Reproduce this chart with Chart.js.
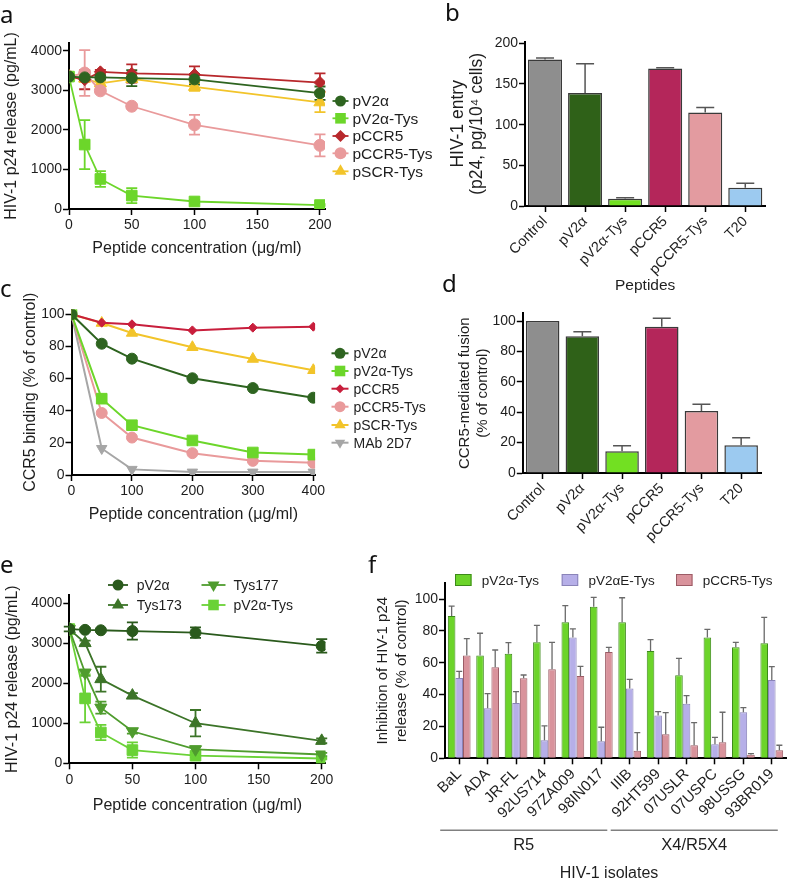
<!DOCTYPE html>
<html>
<head>
<meta charset="utf-8">
<script src="https://cdn.jsdelivr.net/npm/chart.js@4.4.1/dist/chart.umd.min.js"></script>
<style>
html, body { margin: 0; padding: 0; background: #fff; overflow: hidden; }
#fig { position: relative; width: 788px; height: 880px; }
#fig canvas { position: absolute; }
.tag { position: absolute; font-family: 'Noto Sans', sans-serif; font-size: 24px; line-height: 24px; color: #111; }
</style>
</head>
<body>
<div id="fig">
  <canvas id="chartA" width="445" height="290" style="left:0;top:0"></canvas>
  <canvas id="chartB" width="348" height="295" style="left:440px;top:0"></canvas>
  <canvas id="chartC" width="440" height="240" style="left:0;top:290px"></canvas>
  <canvas id="chartD" width="348" height="270" style="left:440px;top:295px"></canvas>
  <canvas id="chartE" width="370" height="250" style="left:0;top:570px"></canvas>
  <canvas id="chartF" width="418" height="320" style="left:370px;top:560px"></canvas>
  <div class="tag" style="left:0;top:2px">a</div>
  <div class="tag" style="left:445px;top:0">b</div>
  <div class="tag" style="left:0;top:276px">c</div>
  <div class="tag" style="left:442px;top:271px">d</div>
  <div class="tag" style="left:0;top:552px">e</div>
  <div class="tag" style="left:368px;top:552px">f</div>
</div>
<script>
// panel a: p24 release vs peptide concentration
var concA = [0, 12.5, 25, 50, 100, 200];
var aV2 = [3350, 3330, 3330, 3310, 3280, 2930];
var aV2Err = [0, 60, 50, 200, 130, 170];
var aV2Tys = [3350, 1630, 760, 340, 190, 100];
var aV2TysErr = [0, 620, 200, 190, 40, 20];
var aCCR5 = [3350, 3270, 3470, 3430, 3400, 3200];
var aCCR5Err = [0, 240, 50, 230, 210, 230];
var aCCR5Tys = [3350, 3440, 2990, 2600, 2130, 1610];
var aCCR5TysErr = [0, 580, 50, 50, 250, 280];
var aSCRTys = [3350, 3300, 3180, 3290, 3090, 2700];
var aSCRTysErr = [0, 80, 60, 60, 100, 250];

// panel b / d: bars per peptide
var peptides = ['Control', 'pV2α', 'pV2α-Tys', 'pCCR5', 'pCCR5-Tys', 'T20'];
var bEntry = [180, 139, 9, 169, 115, 22.5];
var bEntryErr = [2, 36, 1, 1, 6, 5.5];
var dFusion = [100, 90, 14.3, 96.2, 40.8, 18.2];
var dFusionErr = [0, 3, 3.7, 5.6, 4.4, 5];

// panel c: CCR5 binding
var concC = [0, 50, 100, 200, 300, 400];
var cV2 = [100, 81.7, 72.4, 60.2, 54.1, 48.1];
var cV2Tys = [100, 47.5, 31, 21.5, 14, 12.7];
var cCCR5 = [100, 94.8, 93.8, 90, 91.7, 92.3];
var cCCR5Tys = [100, 38.6, 23.3, 13.6, 8.8, 7.6];
var cSCRTys = [100, 94.6, 88.4, 79.5, 72.2, 65.2];
var cMAb = [100, 16.5, 3.5, 1.8, 1.8, 1.8];

// panel e: sulfated variants
var concE = [0, 12.5, 25, 50, 100, 200];
var eV2 = [3350, 3330, 3320, 3300, 3260, 2930];
var eV2Err = [60, 40, 40, 215, 130, 170];
var eTys173 = [3350, 3000, 2100, 1690, 1000, 560];
var eTys173Err = [0, 60, 310, 60, 330, 60];
var eTys177 = [3350, 2260, 1390, 800, 350, 220];
var eTys177Err = [0, 80, 150, 60, 70, 40];
var eV2Tys = [3350, 1620, 770, 330, 190, 120];
var eV2TysErr = [0, 600, 190, 190, 40, 20];

// panel f: inhibition per isolate
var isolates = ['BaL', 'ADA', 'JR-FL', '92US714', '97ZA009', '98IN017', 'IIIB', '92HT599', '07USLR', '07USPC', '98USSG', '93BR019'];
var fV2Tys = [89.3, 64.6, 65.7, 72.8, 85.4, 95.2, 85.4, 67.4, 52.1, 75.9, 69.7, 72.2];
var fV2TysErr = [6.3, 13.9, 6.9, 10.7, 10.4, 5.8, 15.4, 7.1, 10.7, 5.1, 3.1, 16.3];
var fV2ETys = [50.4, 31.4, 34.7, 11.3, 75.9, 10.7, 43.9, 26.8, 34.3, 8.8, 28.9, 49.2];
var fV2ETysErr = [4.2, 9.2, 7.1, 9, 5.3, 8.8, 5.7, 2.5, 5, 4.4, 2.9, 8.3];
var fCCR5Tys = [64.6, 57.1, 50.2, 55.9, 51.7, 66.7, 4.8, 15.1, 8.2, 10, 2.3, 5];
var fCCR5TysErr = [10.5, 10.9, 2.1, 16.9, 6, 3, 11.3, 13.6, 14.2, 18.9, 0.6, 3.2];
var groupNames = ['R5', 'X4/R5X4'];
var groupFirst = [0, 6];
var groupLast = [5, 11];

// tick labels
var ticksP24 = [0, 1000, 2000, 3000, 4000];
var ticksConc200 = [0, 50, 100, 150, 200];
var ticksConc400 = [0, 100, 200, 300, 400];
var ticksEntry = [0, 50, 100, 150, 200];
var ticksPct = [0, 20, 40, 60, 80, 100];

var FONT = "'Liberation Sans', Arial, sans-serif";
var INK = '#1e1e1e';
Chart.defaults.font.family = FONT;
Chart.defaults.font.size = 14;
Chart.defaults.color = INK;
Chart.defaults.plugins.legend.display = false;
Chart.defaults.plugins.tooltip.enabled = false;

function drawMarker(ctx, style, r, rot, x, y, color) {
    ctx.save();
    ctx.translate(x, y);
    ctx.rotate((rot || 0) * Math.PI / 180);
    ctx.fillStyle = color;
    ctx.beginPath();
    if (style === 'circle') {
        ctx.arc(0, 0, r, 0, Math.PI * 2);
    } else if (style === 'rect') {
        var s = r * Math.SQRT1_2;
        ctx.rect(-s, -s, 2 * s, 2 * s);
    } else if (style === 'rectRot') {
        ctx.moveTo(-r, 0); ctx.lineTo(0, -r); ctx.lineTo(r, 0); ctx.lineTo(0, r);
    } else {
        for (var k = 0; k < 3; k++) {
            var a = k * 2 * Math.PI / 3;
            ctx.lineTo(Math.sin(a) * r, -Math.cos(a) * r);
        }
    }
    ctx.closePath();
    ctx.fill();
    ctx.restore();
}

function drawErrors(chart, opts) {
    var ctx = chart.ctx, yScale = chart.scales.y;
    chart.data.datasets.forEach(function (ds, i) {
        if (!ds.errors) return;
        var meta = chart.getDatasetMeta(i);
        ctx.save();
        ctx.strokeStyle = opts.color || ds.borderColor;
        ctx.lineWidth = opts.width || 1.5;
        meta.data.forEach(function (el, j) {
            var e = ds.errors[j];
            if (!e) return;
            var d = ds.data[j];
            var v = typeof d === 'object' ? d.y : d;
            var top = yScale.getPixelForValue(v + e);
            var bot = yScale.getPixelForValue(opts.upperOnly ? v : v - e);
            ctx.beginPath();
            ctx.moveTo(el.x, top); ctx.lineTo(el.x, bot);
            ctx.moveTo(el.x - opts.cap, top); ctx.lineTo(el.x + opts.cap, top);
            if (!opts.upperOnly) {
                ctx.moveTo(el.x - opts.cap, bot); ctx.lineTo(el.x + opts.cap, bot);
            }
            ctx.stroke();
        });
        ctx.restore();
    });
}

var errorBars = {
    id: 'errorBars',
    beforeDatasetsDraw: function (chart, args, opts) { if (opts.cap && !opts.onTop) drawErrors(chart, opts); },
    afterDatasetsDraw: function (chart, args, opts) { if (opts.cap && opts.onTop) drawErrors(chart, opts); }
};

var keys = {
    id: 'keys',
    afterDraw: function (chart, args, opts) {
        if (!opts.items) return;
        var ctx = chart.ctx;
        ctx.save();
        ctx.font = opts.size + 'px ' + FONT;
        ctx.textBaseline = 'middle';
        opts.items.forEach(function (it) {
            var ds = chart.data.datasets[it.ds];
            if (opts.box) {
                ctx.fillStyle = ds.backgroundColor;
                ctx.fillRect(it.x, it.y - 6, 16.5, 12);
                ctx.strokeStyle = ds.borderColor;
                ctx.lineWidth = 1;
                ctx.strokeRect(it.x + 0.5, it.y - 5.5, 15.5, 11);
            } else {
                var half = it.half || opts.half;
                ctx.strokeStyle = ds.borderColor;
                ctx.lineWidth = ds.borderWidth;
                ctx.beginPath();
                ctx.moveTo(it.x - half, it.y); ctx.lineTo(it.x + half, it.y);
                ctx.stroke();
                drawMarker(ctx, ds.pointStyle, ds.pointRadius, ds.pointRotation, it.x, it.y, ds.borderColor);
            }
            ctx.fillStyle = INK;
            ctx.fillText(ds.label, it.x + (it.gap || opts.gap), it.y + 1);
        });
        ctx.restore();
    }
};

var groupBrackets = {
    id: 'groupBrackets',
    afterDraw: function (chart, args, opts) {
        if (!opts.names) return;
        var ctx = chart.ctx, xs = chart.scales.x, b = chart.chartArea.bottom;
        var minX = Infinity, maxX = -Infinity;
        ctx.save();
        ctx.strokeStyle = '#808080';
        ctx.lineWidth = 1.5;
        ctx.fillStyle = INK;
        ctx.textAlign = 'center';
        ctx.textBaseline = 'middle';
        ctx.font = '16.5px ' + FONT;
        opts.names.forEach(function (name, g) {
            var x0 = xs.getPixelForValue(opts.first[g]) - 19;
            var x1 = xs.getPixelForValue(opts.last[g]) + 6;
            minX = Math.min(minX, x0); maxX = Math.max(maxX, x1);
            ctx.beginPath();
            ctx.moveTo(x0, b + 72); ctx.lineTo(x1, b + 72);
            ctx.stroke();
            ctx.fillText(name, (x0 + x1) / 2, b + 87.5);
        });
        ctx.font = '16px ' + FONT;
        ctx.fillText(opts.title, (minX + maxX) / 2, b + 115);
        ctx.restore();
    }
};

Chart.register(errorBars, keys, groupBrackets);

function pts(xs, ys) {
    return xs.map(function (x, i) { return {x: x, y: ys[i]}; });
}

function series(label, xs, ys, errs, color, style, r, rot, lw) {
    return {
        label: label, data: pts(xs, ys), errors: errs,
        borderColor: color, backgroundColor: color,
        pointBackgroundColor: color, pointBorderColor: color, pointBorderWidth: 1,
        pointStyle: style, pointRadius: r, pointRotation: rot || 0,
        borderWidth: lw, tension: 0, fill: false
    };
}

function axisLook() {
    return {
        grid: {drawOnChartArea: false, tickLength: 6, tickWidth: 1.5, tickColor: '#000'},
        border: {color: '#000', width: 2}
    };
}

function fixedTicks(values) {
    return function (sc) {
        sc.ticks = values.map(function (v) { return {value: v}; });
    };
}

function plainLabel(v) {
    return String(v);
}

function linearX(max, values, title, h) {
    var s = axisLook();
    s.type = 'linear'; s.min = 0; s.max = max;
    s.ticks = {padding: 2, color: INK, callback: plainLabel};
    s.afterBuildTicks = fixedTicks(values);
    s.title = {display: true, text: title, color: INK, font: {size: 16}, padding: 0};
    s.afterFit = function (sc) { sc.height = h; };
    return s;
}

function categoryX(h, size, title) {
    var s = axisLook();
    s.type = 'category'; s.offset = true;
    s.grid.offset = false;
    s.ticks = {minRotation: 45, maxRotation: 45, autoSkip: false, padding: 1, color: INK, font: {size: size}};
    if (title) s.title = {display: true, text: title, color: INK, font: {size: 15.5}, padding: 0};
    s.afterFit = function (sc) { sc.height = h; };
    return s;
}

function linearY(max, values, title, w, size, lh, pad) {
    var s = axisLook();
    s.min = 0; s.max = max;
    s.ticks = {padding: 1, color: INK, callback: plainLabel};
    s.afterBuildTicks = fixedTicks(values);
    s.title = {display: true, text: title, color: INK, font: {size: size, lineHeight: lh}, padding: {top: pad, bottom: 0}};
    s.afterFit = function (sc) { sc.width = w; };
    return s;
}

var cGreen = '#2e6420', cLime = '#6cd62a', cRed = '#b8282c', cPink = '#e99a9b', cGold = '#f2c42a';

new Chart(document.getElementById('chartA'), {
    type: 'line',
    data: {
        datasets: [
            series('pV2α', concA, aV2, aV2Err, cGreen, 'circle', 5.5, 0, 1.8),
            series('pV2α-Tys', concA, aV2Tys, aV2TysErr, cLime, 'rect', 7.5, 0, 1.8),
            series('pCCR5', concA, aCCR5, aCCR5Err, cRed, 'rectRot', 6, 0, 1.8),
            series('pCCR5-Tys', concA, aCCR5Tys, aCCR5TysErr, cPink, 'circle', 6, 0, 1.8),
            series('pSCR-Tys', concA, aSCRTys, aSCRTysErr, cGold, 'triangle', 7, 0, 1.8)
        ]
    },
    options: {
        responsive: false, animation: false,
        layout: {padding: {left: 0, top: 43, right: 120, bottom: 32}},
        scales: {
            x: linearX(204, ticksConc200, 'Peptide concentration (μg/ml)', 49),
            y: linearY(4200, ticksP24, 'HIV-1 p24 release (pg/mL)', 69, 16, 1.2, 2.4)
        },
        plugins: {
            errorBars: {cap: 5.5, width: 1.8},
            keys: {size: 15.5, half: 8, gap: 12, items: [
                {ds: 0, x: 340.5, y: 101}, {ds: 1, x: 340.5, y: 118.3}, {ds: 2, x: 340.5, y: 136},
                {ds: 3, x: 340.5, y: 153.3}, {ds: 4, x: 340.5, y: 171.3}
            ]}
        }
    }
});

var barFill = ['#8e8e8e', '#2f6118', '#72e022', '#b4265a', '#e39ba0', '#9ccaf0'];

new Chart(document.getElementById('chartB'), {
    type: 'bar',
    data: {
        labels: peptides,
        datasets: [{data: bEntry, errors: bEntryErr, backgroundColor: barFill, borderColor: '#3a3a3a', borderWidth: 1.5,
            barPercentage: 0.85, categoryPercentage: 1}]
    },
    options: {
        responsive: false, animation: false,
        layout: {padding: {left: 0, top: 41.7, right: 22.7, bottom: 0.4}},
        scales: {
            x: categoryX(88.6, 14.5, 'Peptides'),
            y: linearY(202, ticksEntry, ['HIV-1 entry', '(p24, pg/10⁴ cells)'], 85, 17.5, 1.1, 8.7)
        },
        plugins: {errorBars: {cap: 9, width: 1.5, upperOnly: true, onTop: true, color: '#555'}}
    }
});

new Chart(document.getElementById('chartC'), {
    type: 'line',
    data: {
        datasets: [
            series('pV2α', concC, cV2, null, cGreen, 'circle', 5.5, 0, 2),
            series('pV2α-Tys', concC, cV2Tys, null, cLime, 'rect', 7.5, 0, 2),
            series('pCCR5', concC, cCCR5, null, '#c81e3c', 'rectRot', 4.5, 0, 2),
            series('pCCR5-Tys', concC, cCCR5Tys, null, cPink, 'circle', 5.5, 0, 2),
            series('pSCR-Tys', concC, cSCRTys, null, cGold, 'triangle', 6.5, 0, 2),
            series('MAb 2D7', concC, cMAb, null, '#a6a6a6', 'triangle', 6, 180, 2)
        ]
    },
    options: {
        responsive: false, animation: false,
        layout: {padding: {left: 0, top: 19.5, right: 124.9, bottom: 5.4}},
        scales: {
            x: linearX(403, ticksConc400, 'Peptide concentration (μg/ml)', 49.6),
            y: linearY(103, ticksPct, 'CCR5 binding (% of control)', 71.5, 16, 1.2, 21.4)
        },
        plugins: {
            keys: {size: 14, half: 8.5, gap: 13.5, items: [
                {ds: 0, x: 340, y: 63.3}, {ds: 1, x: 340, y: 81}, {ds: 2, x: 340, y: 98.7},
                {ds: 3, x: 340, y: 116.7}, {ds: 4, x: 340, y: 135}, {ds: 5, x: 340, y: 152.7}
            ]}
        }
    }
});

new Chart(document.getElementById('chartD'), {
    type: 'bar',
    data: {
        labels: peptides,
        datasets: [{data: dFusion, errors: dFusionErr, backgroundColor: barFill, borderColor: '#3a3a3a', borderWidth: 1.5,
            barPercentage: 0.845, categoryPercentage: 1}]
    },
    options: {
        responsive: false, animation: false,
        layout: {padding: {left: 0, top: 18.4, right: 27, bottom: 0}},
        scales: {
            x: categoryX(92, 14.5),
            y: linearY(105, ticksPct, ['CCR5-mediated fusion', '(% of control)'], 82.8, 15, 1.167, 16.25)
        },
        plugins: {errorBars: {cap: 9, width: 1.5, upperOnly: true, onTop: true, color: '#555'}}
    }
});

new Chart(document.getElementById('chartE'), {
    type: 'line',
    data: {
        datasets: [
            series('pV2α', concE, eV2, eV2Err, '#2a5a1c', 'circle', 5.5, 0, 1.8),
            series('Tys173', concE, eTys173, eTys173Err, '#3c7428', 'triangle', 7, 0, 1.8),
            series('Tys177', concE, eTys177, eTys177Err, '#4f9c2e', 'triangle', 7, 180, 1.8),
            series('pV2α-Tys', concE, eV2Tys, eV2TysErr, '#6ad236', 'rect', 7.5, 0, 1.8)
        ]
    },
    options: {
        responsive: false, animation: false,
        layout: {padding: {left: 0, top: 25, right: 44.5, bottom: 4.4}},
        scales: {
            x: linearX(203, ticksConc200, 'Peptide concentration (μg/ml)', 52.3),
            y: linearY(4200, ticksP24, 'HIV-1 p24 release (pg/mL)', 69.3, 16, 1.2, 2.9)
        },
        plugins: {
            errorBars: {cap: 5.5, width: 1.8},
            keys: {size: 14, items: [
                {ds: 0, x: 118, y: 15, half: 10, gap: 18.7}, {ds: 1, x: 118, y: 35, half: 10, gap: 18.7},
                {ds: 2, x: 213.5, y: 15, half: 12, gap: 20}, {ds: 3, x: 213.5, y: 35, half: 12, gap: 20}
            ]}
        }
    }
});

new Chart(document.getElementById('chartF'), {
    type: 'bar',
    data: {
        labels: isolates,
        datasets: [
            {label: 'pV2α-Tys', data: fV2Tys, errors: fV2TysErr, backgroundColor: '#6cd42a', borderColor: '#3d8a1a', borderWidth: 1},
            {label: 'pV2αE-Tys', data: fV2ETys, errors: fV2ETysErr, backgroundColor: '#b6afe8', borderColor: '#8a84b8', borderWidth: 1},
            {label: 'pCCR5-Tys', data: fCCR5Tys, errors: fCCR5TysErr, backgroundColor: '#d9939c', borderColor: '#9c5c66', borderWidth: 1}
        ]
    },
    options: {
        responsive: false, animation: false,
        datasets: {bar: {barPercentage: 1, categoryPercentage: 0.8}},
        layout: {padding: {left: 0, top: 23.1, right: 2, bottom: 0}},
        scales: {
            x: categoryX(121.7, 15),
            y: linearY(110, ticksPct, ['Inhibition of HIV-1 p24', 'release (% of control)'], 75, 15, 1.267, 3.5)
        },
        plugins: {
            errorBars: {cap: 3, width: 1.3, upperOnly: true, onTop: true, color: '#6a6a6a'},
            keys: {size: 13.5, box: true, gap: 26.7, items: [
                {ds: 0, x: 85, y: 20}, {ds: 1, x: 191.7, y: 20}, {ds: 2, x: 306, y: 20}
            ]},
            groupBrackets: {names: groupNames, first: groupFirst, last: groupLast, title: 'HIV-1 isolates'}
        }
    }
});
</script>
</body>
</html>
